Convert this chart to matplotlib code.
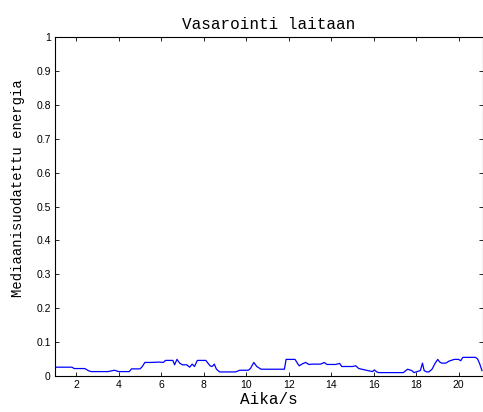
import matplotlib
matplotlib.use("Agg")
import matplotlib.pyplot as plt

# time (s) and median-filtered energy
t = [1.0, 1.8, 1.9, 2.4, 2.6, 2.7, 3.5, 3.8, 4.0, 4.5, 4.6, 5.0, 5.1, 5.23,
     5.5, 5.9, 6.1, 6.2, 6.55, 6.63, 6.74, 6.87, 7.0, 7.2, 7.34, 7.46, 7.57,
     7.7, 8.1, 8.3, 8.4, 8.5, 8.6, 8.75, 9.5, 9.7, 10.1, 10.2, 10.36, 10.5,
     10.7, 11.1, 11.8, 11.88, 12.3, 12.4, 12.5, 12.65, 12.8, 12.95, 13.1,
     13.5, 13.68, 13.8, 14.2, 14.4, 14.5, 15.0, 15.16, 15.3, 15.8, 15.95,
     16.03, 16.15, 16.25, 17.4, 17.6, 17.8, 17.9, 18.05, 18.2, 18.3, 18.38,
     18.5, 18.6, 18.75, 18.9, 19.02, 19.1, 19.2, 19.4, 19.55, 19.8, 20.0,
     20.1, 20.2, 20.8, 20.9, 21.0, 21.1]
energia = [0.026, 0.026, 0.022, 0.022, 0.015, 0.013, 0.013, 0.017, 0.013,
           0.013, 0.021, 0.021, 0.027, 0.04, 0.04, 0.041, 0.04, 0.046, 0.046,
           0.033, 0.049, 0.038, 0.033, 0.033, 0.026, 0.035, 0.028, 0.046,
           0.046, 0.03, 0.028, 0.035, 0.02, 0.012, 0.012, 0.017, 0.017, 0.022,
           0.04, 0.028, 0.02, 0.02, 0.02, 0.049, 0.049, 0.039, 0.03, 0.036,
           0.04, 0.034, 0.035, 0.035, 0.04, 0.034, 0.034, 0.037, 0.028, 0.028,
           0.03, 0.022, 0.015, 0.013, 0.018, 0.012, 0.01, 0.01, 0.02, 0.016,
           0.01, 0.013, 0.016, 0.038, 0.016, 0.012, 0.012, 0.02, 0.038, 0.049,
           0.042, 0.038, 0.038, 0.044, 0.049, 0.049, 0.045, 0.055, 0.055,
           0.05, 0.035, 0.016]

xticks = list(range(2, 21, 2))
yticks = [i / 10 for i in range(11)]
ytick_labels = ["0"] + ["%.1f" % v for v in yticks[1:-1]] + ["1"]

mono = "Liberation Mono"
sans = "Liberation Sans"

fig = plt.figure(figsize=(4.83, 4.12), dpi=100)
ax = fig.add_axes([55 / 483, 36 / 412, 428 / 483, 339 / 412])
ax.plot(t, energia, color="#0000ff", linewidth=0.9)

ax.set_xlim(1, 21.15)
ax.set_ylim(0, 1)
ax.set_xticks(xticks)
ax.set_xticklabels([str(v) for v in xticks], family=sans, fontsize=7.5)
ax.set_yticks(yticks)
ax.set_yticklabels(ytick_labels, family=sans, fontsize=7.5)
ax.tick_params(direction="in", length=3, width=0.6, top=True, right=True, pad=3)

for s in ax.spines.values():
    s.set_linewidth(0.8)

ax.set_title("Vasarointi laitaan", family=mono, fontsize=11.5, pad=6)
ax.set_xlabel("Aika/s", family=mono, fontsize=11.5, labelpad=1)
ax.set_ylabel("Mediaanisuodatettu energia", family=mono, fontsize=10)
ax.yaxis.set_label_coords(-0.07, 0.555)

plt.savefig("out.png", dpi=100)
